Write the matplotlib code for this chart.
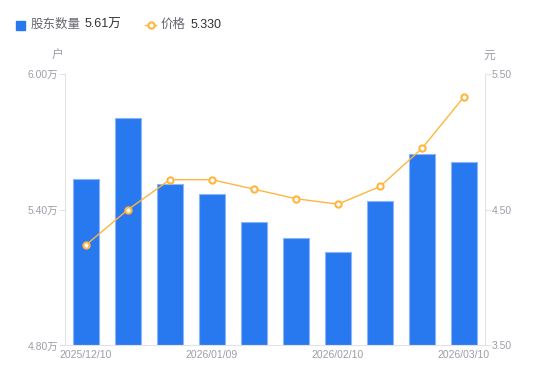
import matplotlib
matplotlib.use("Agg")
import matplotlib.pyplot as plt
from matplotlib.lines import Line2D
from matplotlib.patches import Rectangle

plt.rcParams['font.family'] = ['Liberation Sans', 'Noto Sans CJK SC', 'DejaVu Sans']

dates = ["2025/12/10", "2025/12/19", "2025/12/31", "2026/01/09", "2026/01/20",
         "2026/01/30", "2026/02/10", "2026/02/20", "2026/02/28", "2026/03/10"]
holders = [5.533, 5.803, 5.511, 5.467, 5.346, 5.273, 5.211, 5.439, 5.644, 5.609]  # 万户
price = [4.24, 4.50, 4.72, 4.72, 4.65, 4.58, 4.54, 4.67, 4.95, 5.33]
left_ticks = [4.80, 5.40, 6.00]
right_ticks = [3.50, 4.50, 5.50]
shown_tick_idx = [0, 3, 6, 9]

BLUE = "#2878F0"
ORANGE = "#FFB53F"
GRAY = "#9d9da8"
AX = "#e3e3e6"

fig = plt.figure(figsize=(5.5, 3.81), dpi=100)
ax = fig.add_axes([0.1182, 0.0932, 0.7636, 0.7134])
x = list(range(len(dates)))
ax.bar(x, [h - left_ticks[0] for h in holders], bottom=left_ticks[0], width=0.6,
       color=BLUE, edgecolor="#8ab6f8", linewidth=0.8, zorder=2)
ax.set_xlim(-0.5, len(dates) - 0.5)
ax.set_ylim(left_ticks[0], left_ticks[-1])
ax.set_yticks(left_ticks)
ax.set_yticklabels([f"{t:.2f}万" for t in left_ticks])
ax.set_xticks([x[i] for i in shown_tick_idx])
ax.set_xticklabels([dates[i] for i in shown_tick_idx])

ax2 = ax.twinx()
ax2.plot(x, price, color=ORANGE, linewidth=1.0, marker="o", markersize=4.5,
         markerfacecolor="white", markeredgecolor=ORANGE, markeredgewidth=1.5, zorder=3)
ax2.set_ylim(right_ticks[0], right_ticks[-1])
ax2.set_yticks(right_ticks)
ax2.set_yticklabels([f"{t:.2f}" for t in right_ticks])

for a in (ax, ax2):
    for s in a.spines.values():
        s.set_visible(False)
ax.spines['left'].set_visible(True)
ax.spines['left'].set_color(AX)
ax.spines['bottom'].set_visible(True)
ax.spines['bottom'].set_color(AX)
ax2.spines['right'].set_visible(True)
ax2.spines['right'].set_color(AX)

ax.tick_params(axis='y', colors=AX, labelcolor=GRAY, labelsize=7.5, length=4, width=0.8, pad=1)
ax.tick_params(axis='x', length=0, labelcolor=GRAY, labelsize=7.5, pad=3)
ax2.tick_params(axis='y', colors=AX, labelcolor=GRAY, labelsize=7.5, length=4, width=0.8, pad=1)

fig.text(58 / 550, 1 - 56 / 381, "户", color=GRAY, fontsize=8.5, ha='center', va='center')
fig.text(489 / 550, 1 - 56 / 381, "元", color=GRAY, fontsize=8.5, ha='center', va='center')

# legend
fig.patches.append(Rectangle((16 / 550, 1 - 29.5 / 381), 9 / 550, 9 / 381,
                             transform=fig.transFigure, color=BLUE, figure=fig))
fig.text(31 / 550, 1 - 24.5 / 381, "股东数量", color="#666670", fontsize=9, va='center')
fig.text(85 / 550, 1 - 24.5 / 381, f"{holders[-1]:.2f}万", color="#333333", fontsize=9, va='center')
fig.lines.append(Line2D([145 / 550, 156 / 550], [1 - 24.5 / 381] * 2, transform=fig.transFigure,
                        color=ORANGE, linewidth=1.0, marker="o", markevery=[0], markersize=0))
fig.lines.append(Line2D([150.5 / 550], [1 - 24.5 / 381], transform=fig.transFigure,
                        color=ORANGE, marker="o", markersize=4.5, markerfacecolor="white",
                        markeredgewidth=1.5, linestyle='none'))
fig.text(161 / 550, 1 - 24.5 / 381, "价格", color="#666670", fontsize=9, va='center')
fig.text(191 / 550, 1 - 24.5 / 381, f"{price[-1]:.3f}", color="#333333", fontsize=9, va='center')

fig.savefig("out.png", dpi=100)
